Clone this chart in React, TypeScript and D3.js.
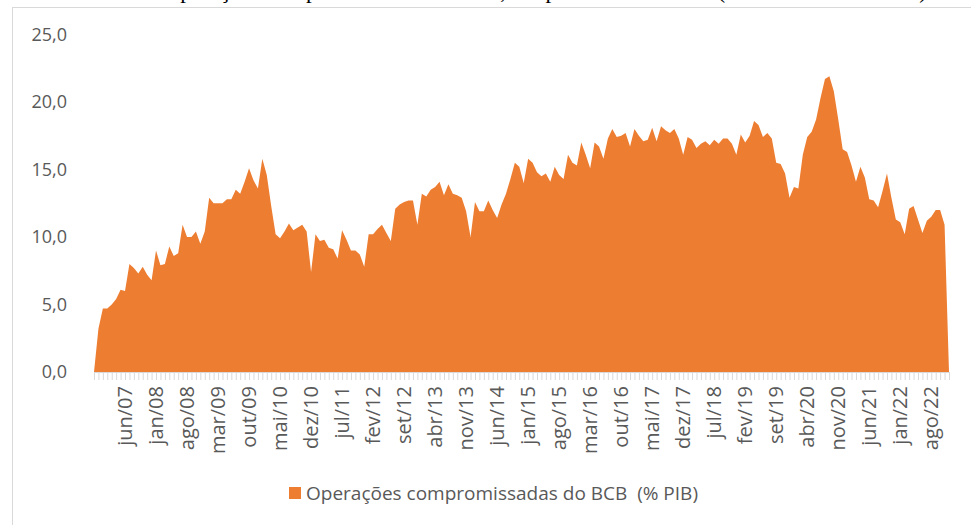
import React from 'react';
import * as d3 from 'd3';

// nov/06 .. dez/22, % do PIB
const v2006 = [0, 3.2];
const v2007 = [4.7, 4.7, 5.0, 5.4, 6.1, 6.0, 8.0, 7.7, 7.3, 7.8, 7.2, 6.8];
const v2008 = [9.0, 7.9, 8.0, 9.3, 8.6, 8.8, 10.9, 10.0, 10.0, 10.4, 9.5, 10.4];
const v2009 = [12.9, 12.5, 12.5, 12.5, 12.8, 12.8, 13.5, 13.2, 14.1, 15.1, 14.2, 13.6];
const v2010 = [15.8, 14.6, 12.3, 10.2, 9.9, 10.4, 11.0, 10.5, 10.7, 10.9, 10.4, 7.4];
const v2011 = [10.2, 9.7, 9.8, 9.2, 9.1, 8.4, 10.5, 9.8, 9.0, 9.0, 8.7, 7.8];
const v2012 = [10.2, 10.2, 10.6, 10.9, 10.3, 9.7, 12.1, 12.4, 12.6, 12.7, 12.7, 10.9];
const v2013 = [13.2, 13.0, 13.5, 13.7, 14.1, 13.1, 13.9, 13.2, 13.1, 12.9, 11.9, 10.0];
const v2014 = [12.6, 11.9, 11.9, 12.7, 12.0, 11.4, 12.4, 13.2, 14.3, 15.5, 15.2, 14.0];
const v2015 = [15.8, 15.5, 14.8, 14.5, 14.7, 14.1, 15.2, 14.6, 14.3, 16.1, 15.5, 15.3];
const v2016 = [17.0, 16.1, 15.1, 17.0, 16.7, 15.8, 17.3, 18.0, 17.4, 17.5, 17.7, 16.7];
const v2017 = [18.0, 17.5, 17.1, 17.2, 18.1, 17.1, 18.2, 17.9, 17.7, 18.0, 17.3, 16.1];
const v2018 = [17.4, 17.2, 16.6, 16.9, 17.1, 16.8, 17.2, 16.9, 17.3, 17.3, 16.9, 16.1];
const v2019 = [17.6, 17.0, 17.5, 18.6, 18.3, 17.4, 17.7, 17.3, 15.5, 15.4, 14.7, 12.9];
const v2020 = [13.7, 13.6, 16.1, 17.4, 17.8, 18.7, 20.3, 21.7, 21.9, 20.8, 18.7, 16.5];
const v2021 = [16.3, 15.3, 14.1, 15.2, 14.4, 12.8, 12.7, 12.2, 13.4, 14.7, 12.9, 11.3];
const v2022 = [11.1, 10.2, 12.1, 12.3, 11.3, 10.3, 11.2, 11.5, 12.0, 12.0, 10.9, 0];

const values = [
  ...v2006, ...v2007, ...v2008, ...v2009, ...v2010, ...v2011, ...v2012, ...v2013,
  ...v2014, ...v2015, ...v2016, ...v2017, ...v2018, ...v2019, ...v2020, ...v2021, ...v2022,
];

const monthNames = ['jan', 'fev', 'mar', 'abr', 'mai', 'jun', 'jul', 'ago', 'set', 'out', 'nov', 'dez'];
const categories = values.map((_, i) => {
  const m = (10 + i) % 12;
  const y = 6 + Math.floor((10 + i) / 12);
  return `${monthNames[m]}/${String(y).padStart(2, '0')}`;
});

const tickLabels = [
  'jun/07', 'jan/08', 'ago/08', 'mar/09', 'out/09', 'mai/10', 'dez/10', 'jul/11', 'fev/12',
  'set/12', 'abr/13', 'nov/13', 'jun/14', 'jan/15', 'ago/15', 'mar/16', 'out/16', 'mai/17',
  'dez/17', 'jul/18', 'fev/19', 'set/19', 'abr/20', 'nov/20', 'jun/21', 'jan/22', 'ago/22',
];
const yTicks = [0, 5, 10, 15, 20, 25];

const seriesName = 'Operações compromissadas do BCB  (% PIB)';
const title = 'Gráfico 1 – Operações compromissadas do BCB, em percentual do PIB (dez/2006 – nov/2022)';

const W = 971;
const H = 525;
const font = "'Open Sans', sans-serif";
const textColor = '#595959';
const orange = '#ED7D31';

const App = () => {
  const x = d3.scalePoint<string>().domain(categories).range([94, 949]);
  const y = d3.scaleLinear().domain([0, 25]).range([372, 34.5]);
  const fmt = (d: number) => d3.format('.1f')(d).replace('.', ',');

  const area = d3
    .area<number>()
    .x((_, i) => x(categories[i]) as number)
    .y0(y(0))
    .y1((d) => y(d));

  return (
    <svg width={W} height={H} style={{ position: 'absolute', left: 0, top: 0 }}>
      <rect x={0} y={0} width={W} height={H} fill="white" />
      {/* título cortado no topo, só as descendentes aparecem */}
      <text x={490} y={-2} textAnchor="middle" fontFamily="'Liberation Serif', serif" fontSize={23} fill="#000">
        {title}
      </text>
      <rect x={12.5} y={7.5} width={1000} height={1000} fill="none" stroke="#d9d9d9" strokeWidth={1} />

      {yTicks.map((t) => (
        <text key={t} x={67} y={y(t)} dy="0.35em" textAnchor="end" fontFamily={font} fontSize={18} fill={textColor}>
          {fmt(t)}
        </text>
      ))}

      <path d={area(values) ?? ''} fill={orange} />

      <line x1={94} x2={950} y1={372.5} y2={372.5} stroke="#d9d9d9" />
      {categories.map((c) => (
        <line key={c} x1={(x(c) as number) + 0.5} x2={(x(c) as number) + 0.5} y1={373} y2={380} stroke="#d9d9d9" />
      ))}

      {tickLabels.map((l) => (
        <text
          key={l}
          transform={`translate(${x(l) as number},386) rotate(-90)`}
          dy="0.35em"
          textAnchor="end"
          fontFamily={font}
          fontSize={20}
          fill={textColor}
        >
          {l}
        </text>
      ))}

      <rect x={289} y={487} width={12} height={12} fill={orange} />
      <text x={306} y={500} fontFamily={font} fontSize={19} fill={textColor} style={{ whiteSpace: 'pre' }}>
        {seriesName}
      </text>
    </svg>
  );
};

export default App;
